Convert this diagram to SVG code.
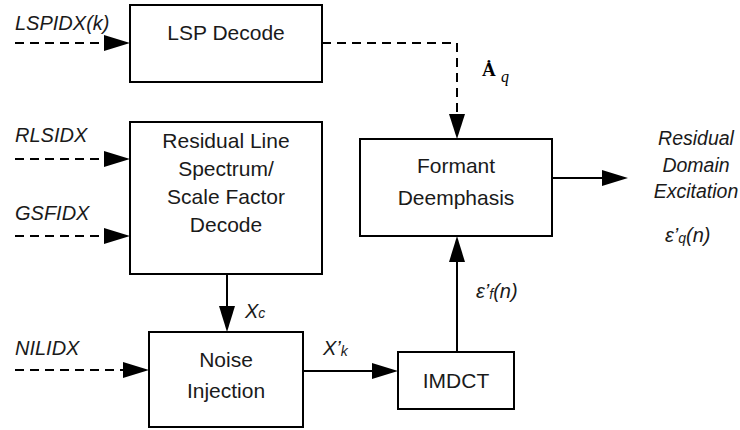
<svg xmlns="http://www.w3.org/2000/svg" width="740" height="430" viewBox="0 0 740 430">
<style>
.box{fill:#fff;stroke:#000;stroke-width:2}
.t{font-family:"Liberation Sans",Arial,sans-serif;font-size:21px;fill:#1a1a1a;text-anchor:middle}
.l{font-family:"Liberation Sans",Arial,sans-serif;font-size:20px;font-style:italic;fill:#1a1a1a}
.o{font-family:"Liberation Sans",Arial,sans-serif;font-size:19.5px;font-style:italic;fill:#1a1a1a;text-anchor:middle}
.ln{fill:none;stroke:#000;stroke-width:2}
.d{stroke-dasharray:9,6}
</style>
<defs>
<marker id="ah" markerUnits="userSpaceOnUse" markerWidth="26" markerHeight="16" refX="26" refY="8" orient="auto">
<path d="M0,0 L26,8 L0,16 Z" fill="#000"/>
</marker>
</defs>
<rect width="740" height="430" fill="#fff"/>
<g id="connectors">
<path class="ln d" d="M15,43 H104" />
<path d="M104,35 L130,43 L104,51 Z"/>
<path class="ln d" d="M322,43 H457 V114"/>
<path d="M449,114 L457,139 L465,114 Z"/>
<path class="ln d" d="M15,159 H104"/>
<path d="M104,151 L130,159 L104,167 Z"/>
<path class="ln d" d="M15,236 H104"/>
<path d="M104,228 L130,236 L104,244 Z"/>
<path class="ln d" d="M15,370 H123"/>
<path d="M123,362 L149,370 L123,378 Z"/>
<path class="ln" d="M227,274 V306"/>
<path d="M219,306 L227,332 L235,306 Z"/>
<path class="ln" d="M303,371 H372"/>
<path d="M372,363 L398,371 L372,379 Z"/>
<path class="ln" d="M457,352 V262"/>
<path d="M449,262 L457,236 L465,262 Z"/>
<path class="ln" d="M552,178 H602"/>
<path d="M602,170 L628,178 L602,186 Z"/>
</g>
<g id="lsp">
<rect class="box" x="130" y="5" width="192" height="77"/>
<text class="t" x="226" y="40">LSP Decode</text>
</g>
<g id="residual">
<rect class="box" x="130" y="122" width="192" height="152"/>
<text class="t" x="226" y="148">Residual Line</text>
<text class="t" x="226" y="176">Spectrum/</text>
<text class="t" x="226" y="204">Scale Factor</text>
<text class="t" x="226" y="232">Decode</text>
</g>
<g id="noise">
<rect class="box" x="149" y="332" width="154" height="95"/>
<text class="t" x="226" y="367">Noise</text>
<text class="t" x="226" y="398">Injection</text>
</g>
<g id="imdct">
<rect class="box" x="398" y="352" width="116" height="57"/>
<text class="t" x="456" y="388">IMDCT</text>
</g>
<g id="formant">
<rect class="box" x="360" y="139" width="192" height="97"/>
<text class="t" x="456" y="173">Formant</text>
<text class="t" x="456" y="205">Deemphasis</text>
</g>
<g id="labels">
<text class="l" x="15" y="30">LSPIDX(k)</text>
<text class="l" x="15" y="142">RLSIDX</text>
<text class="l" x="15" y="220">GSFIDX</text>
<text class="l" x="15" y="355">NILIDX</text>
<text x="482" y="76" font-family="Liberation Serif,serif" font-weight="bold" font-size="19" fill="#000">Ȧ</text>
<text x="501" y="82" font-family="Liberation Serif,serif" font-style="italic" font-size="16" fill="#000">q</text>
<text class="l" x="245" y="318">X<tspan font-size="14" dy="0">c</tspan></text>
<text class="l" x="323" y="355">X’<tspan font-size="14" dy="1">k</tspan></text>
<text class="l" x="476" y="298">ε’<tspan font-size="14" dy="1">f</tspan><tspan dy="-1">(n)</tspan></text>
<text class="o" x="696" y="145">Residual</text>
<text class="o" x="696" y="172">Domain</text>
<text class="o" x="696" y="198">Excitation</text>
<text class="l" x="665" y="242">ε’<tspan font-size="14" dy="1">q</tspan><tspan dy="-1">(n)</tspan></text>
</g>
</svg>
